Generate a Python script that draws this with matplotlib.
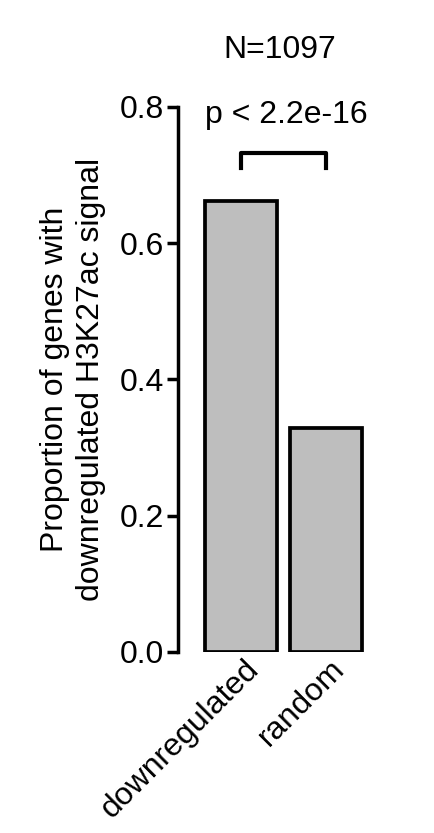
import matplotlib
matplotlib.use('Agg')
import matplotlib.pyplot as plt
import matplotlib.transforms as mtransforms

plt.rcParams['font.family'] = ['Liberation Sans', 'DejaVu Sans']

# data
groups = ['downregulated', 'random']
proportions = [0.662, 0.329]
n_label = 'N=1097'
p_label = 'p < 2.2e-16'
yticks = [0.0, 0.2, 0.4, 0.6, 0.8]

fig = plt.figure(figsize=(4.34, 8.33), dpi=100)
ax = fig.add_axes([0.41, 0.2173, 0.44, 0.6543])

pos = list(range(len(groups)))
ax.bar(pos, proportions, width=0.84, color='#bebebe', edgecolor='black', linewidth=2.7)

ax.set_xlim(-0.737, 1.5)
ax.set_ylim(0, 0.8)
ax.set_yticks(yticks)
ax.set_yticklabels(['%.1f' % t for t in yticks], fontsize=23)
ax.set_xticks(pos)
ax.set_xticklabels(groups, rotation=45, ha='right', va='center', rotation_mode='anchor', fontsize=23)
ax.tick_params(axis='x', length=0, pad=9)
ax.tick_params(axis='y', length=8, width=2.5, pad=2)
# nudge rotated labels to the right like the reference
shift = mtransforms.ScaledTranslation(14 / 100, 0, fig.dpi_scale_trans)
for lab in ax.get_xticklabels():
    lab.set_transform(lab.get_transform() + shift)

for s in ['top', 'right', 'bottom']:
    ax.spines[s].set_visible(False)
ax.spines['left'].set_linewidth(2.5)

ax.set_ylabel('Proportion of genes with\ndownregulated H3K27ac signal', fontsize=23, labelpad=10,
              linespacing=1.25)

# significance bracket
ax.plot([0, 0, 1, 1], [0.711, 0.733, 0.733, 0.711], color='black', lw=3, clip_on=False)
ax.text(0.53, 0.788, p_label, ha='center', va='center', fontsize=23)
ax.text(0.46, 0.884, n_label, ha='center', va='center', fontsize=23, clip_on=False)

fig.savefig('out.png', dpi=100)
